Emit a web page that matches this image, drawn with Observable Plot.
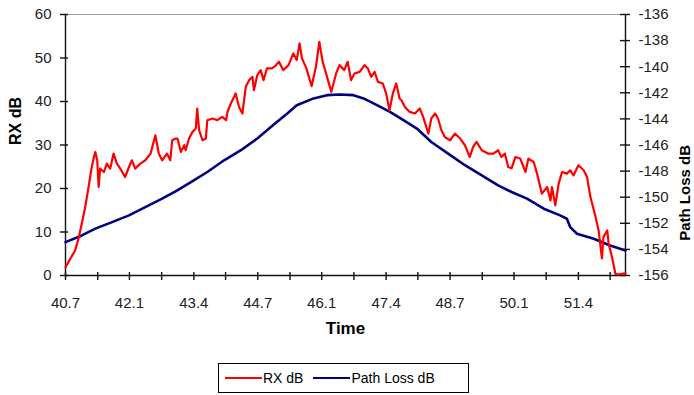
<!DOCTYPE html>
<html><head><meta charset="utf-8">
<script src="https://cdn.jsdelivr.net/npm/d3@7"></script>
<script src="https://cdn.jsdelivr.net/npm/@observablehq/plot@0.6"></script>
<style>
body{margin:0;background:#fff;font-family:Arial,"Liberation Sans",sans-serif;}
#wrap{position:relative;width:694px;height:395px;overflow:hidden;}
#legend{position:absolute;left:218px;top:363px;width:251px;height:30px;border:1px solid #000;box-sizing:border-box;display:flex;align-items:center;font-size:14px;color:#000;padding-left:6px;}
#legend .sw{display:inline-block;width:37px;height:2px;margin-right:1px;}
</style></head>
<body><div id="wrap"></div>
<script>
// ---- data ----
const rxTime = [40.73,40.83,40.93,41.00,41.07,41.14,41.21,41.27,41.32,41.35,41.39,41.42,41.45,41.53,41.59,41.66,41.73,41.80,41.87,41.97,42.05,42.11,42.18,42.29,42.39,42.50,42.60,42.67,42.74,42.84,42.91,42.95,43.02,43.06,43.13,43.20,43.23,43.30,43.37,43.44,43.47,43.51,43.58,43.65,43.68,43.79,43.89,43.99,44.07,44.10,44.17,44.27,44.34,44.41,44.48,44.55,44.62,44.65,44.72,44.79,44.85,44.92,45.02,45.09,45.17,45.26,45.37,45.47,45.54,45.60,45.65,45.74,45.85,45.94,46.01,46.08,46.19,46.26,46.36,46.43,46.53,46.60,46.67,46.74,46.85,46.95,47.02,47.09,47.16,47.23,47.33,47.40,47.47,47.54,47.61,47.68,47.72,47.79,47.89,48.00,48.10,48.17,48.28,48.34,48.42,48.48,48.55,48.62,48.73,48.83,48.94,49.04,49.14,49.21,49.28,49.39,49.52,49.63,49.73,49.80,49.87,49.94,50.01,50.09,50.19,50.30,50.36,50.47,50.54,50.64,50.75,50.82,50.85,50.92,50.99,51.06,51.16,51.23,51.30,51.40,51.51,51.58,51.65,51.75,51.82,51.89,51.92,52.00,52.03,52.10,52.17,52.24,52.38];
const rxValue = [1.91,3.85,5.76,8.45,11.98,15.73,20.34,24.57,27.25,28.40,26.49,20.34,24.57,23.79,25.73,24.57,28.03,25.73,24.57,22.64,24.94,26.49,24.57,25.73,26.49,28.03,32.24,28.03,26.49,28.03,26.49,31.09,31.48,31.48,28.40,29.94,28.79,31.48,33.00,33.79,38.39,33.39,31.09,31.48,35.70,36.09,35.70,36.46,35.70,37.61,39.54,41.85,38.76,37.24,43.37,44.91,45.67,42.61,46.06,47.21,44.91,47.60,47.60,48.13,49.13,47.21,48.36,51.06,49.52,53.36,49.91,47.67,43.53,47.97,53.73,49.13,44.91,42.22,46.45,48.36,47.21,49.13,44.91,46.45,46.82,48.36,47.60,45.67,46.82,44.52,44.15,41.85,38.00,41.85,44.15,40.70,40.30,38.76,37.61,37.24,38.39,36.46,32.63,36.09,37.24,36.09,33.39,31.85,31.09,32.63,31.48,29.94,27.25,29.55,30.70,28.79,28.03,28.03,28.79,27.25,28.03,24.94,24.64,27.25,26.88,23.79,26.88,26.09,23.42,18.82,20.34,17.27,20.34,16.12,21.12,23.79,23.42,24.18,23.03,25.33,24.18,22.64,18.03,13.82,10.36,3.92,8.82,10.36,7.30,4.21,0.39,0.23,0.53];
const plTime = [40.73,41.07,41.35,41.70,42.05,42.39,42.74,43.02,43.34,43.68,44.03,44.38,44.72,45.07,45.35,45.54,45.89,46.17,46.44,46.72,46.93,47.21,47.48,47.76,48.04,48.34,48.69,49.04,49.39,49.73,50.01,50.33,50.68,51.02,51.16,51.23,51.37,51.72,52.06,52.38];
const plValue = [-153.44,-152.93,-152.41,-151.91,-151.39,-150.76,-150.11,-149.55,-148.84,-148.07,-147.17,-146.40,-145.50,-144.41,-143.56,-142.95,-142.43,-142.18,-142.13,-142.18,-142.43,-142.95,-143.46,-144.10,-144.74,-145.77,-146.66,-147.55,-148.32,-149.09,-149.60,-150.11,-150.88,-151.39,-151.65,-152.29,-152.80,-153.18,-153.70,-154.08];
const xTickTimes = [40.73,41.40,42.06,42.73,43.40,44.06,44.73,45.40,46.06,46.73,47.40,48.06,48.73,49.40,50.06,50.73,51.40,52.06];
const xLabelTimes = [40.73,42.06,43.40,44.73,46.06,47.40,48.73,50.06,51.40];
const xLabels = ["40.7","42.1","43.4","44.7","46.1","47.4","48.7","50.1","51.4"];
const rxTicks = [0,10,20,30,40,50,60];
const plTicks = [-156,-154,-152,-150,-148,-146,-144,-142,-140,-138,-136];
const xDomain = [40.73, 52.38];
const rxDomain = [0, 60];
const plDomain = [-156, -136];

// ---- build ----
const W = 694, H = 350, mL = 65, mR = 69, mT = 14, mB = 75;
const fw = W - mL - mR, fh = H - mT - mB;
const k = (rxDomain[1]-rxDomain[0])/(plDomain[1]-plDomain[0]);
const plToY = v => rxDomain[0] + (v - plDomain[0]) * k;
const rx = rxTime.map((t,i)=>({t, v: rxValue[i]}));
const pl = plTime.map((t,i)=>({t, v: plValue[i]}));
const labelMap = new Map(xLabelTimes.map((t,i)=>[t, xLabels[i]]));
const plLabelMap = new Map(plTicks.map(v=>[plToY(v), String(v)]));
const txt = "#222";
const axisStroke = "#111";

const chart = Plot.plot({
  width: W, height: H,
  marginLeft: mL, marginRight: mR, marginTop: mT, marginBottom: mB,
  style: {fontFamily: "Arial, 'Liberation Sans', sans-serif", background: "#fff"},
  x: {domain: xDomain, axis: null},
  y: {domain: rxDomain, axis: null},
  marks: [
    Plot.ruleY([rxDomain[1]], {stroke: "#a0a0a0", strokeWidth: 1.2}),
    Plot.ruleY([rxDomain[0]], {stroke: axisStroke, strokeWidth: 1.4}),
    Plot.ruleX([xDomain[0]], {stroke: axisStroke, strokeWidth: 1.4}),
    Plot.ruleX([xDomain[1]], {stroke: axisStroke, strokeWidth: 1.4}),
    // tick marks crossing the axes
    Plot.tickY(rxTicks, {y: d => d, stroke: axisStroke, strokeWidth: 1.4, insetLeft: -5, insetRight: fw - 3}),
    Plot.tickY(plTicks, {y: d => plToY(d), stroke: axisStroke, strokeWidth: 1.4, insetLeft: fw - 5, insetRight: -5}),
    Plot.tickX(xTickTimes, {x: d => d, stroke: axisStroke, strokeWidth: 1.4, insetTop: fh - 3, insetBottom: -5}),
    // tick labels
    Plot.axisY(rxTicks, {anchor: "left", tickSize: 0, tickPadding: 14, fontSize: 15, fill: txt, label: null}),
    Plot.axisY(plTicks.map(plToY), {anchor: "right", tickSize: 0, tickPadding: 13, fontSize: 15, fill: txt, label: null, tickFormat: d => plLabelMap.get(d)}),
    Plot.axisX(xLabelTimes, {anchor: "bottom", tickSize: 0, tickPadding: 22, fontSize: 15, fill: txt, label: null, tickFormat: d => labelMap.get(d)}),
    // axis titles
    Plot.text(["RX dB"], {frameAnchor: "left", dx: -50, rotate: -90, fontWeight: "bold", fontSize: 16, fill: "#000"}),
    Plot.text(["Path Loss dB"], {frameAnchor: "right", dx: 60, rotate: -90, fontWeight: "bold", fontSize: 15, fill: "#000"}),
    Plot.text(["Time"], {frameAnchor: "bottom", dy: 58, fontWeight: "bold", fontSize: 17, fill: "#000"}),
    // series
    Plot.line(pl, {x: "t", y: d => plToY(d.v), stroke: "#000080", strokeWidth: 2.6}),
    Plot.line(rx, {x: "t", y: "v", stroke: "#ff0000", strokeWidth: 2.2})
  ]
});
const wrap = document.getElementById("wrap");
wrap.appendChild(chart);
const lg = document.createElement("div");
lg.id = "legend";
lg.innerHTML = '<span class="sw" style="background:#ff0000"></span><span>RX dB</span>' +
  '<span class="sw" style="background:#000080;margin-left:10px"></span><span>Path Loss dB</span>';
wrap.appendChild(lg);
</script>
</body></html>
